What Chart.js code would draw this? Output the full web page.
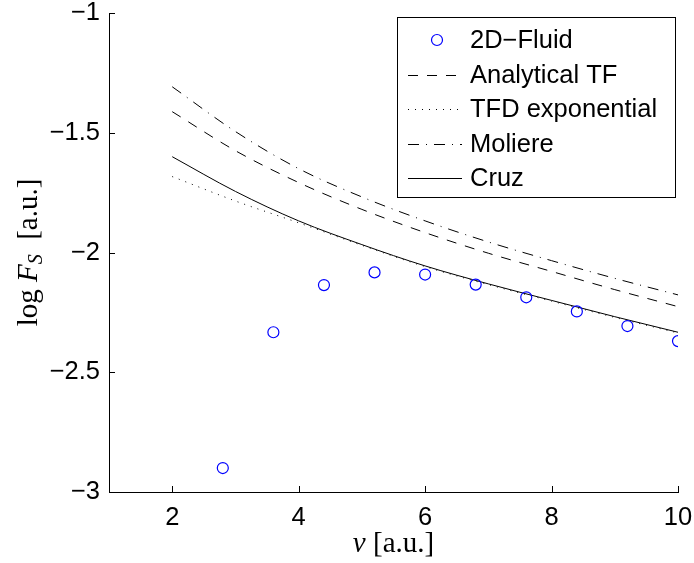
<!DOCTYPE html>
<html><head><meta charset="utf-8">
<script src="https://cdn.jsdelivr.net/npm/chart.js@4.4.0/dist/chart.umd.min.js"></script>
<style>html,body{margin:0;padding:0;background:#fff}canvas{display:block}</style>
</head><body>
<canvas id="c" width="694" height="563"></canvas>
<script>
// ---- data ----
const fluidV = [2.8, 3.6, 4.4, 5.2, 6.0, 6.8, 7.6, 8.4, 9.2, 10.0];
const fluidF = [-2.900, -2.333, -2.136, -2.083, -2.092, -2.134, -2.187, -2.246, -2.307, -2.370];
const curveV = [2, 3, 4, 5, 6, 7, 8, 9, 10];
const analyticalTF = [-1.412, -1.575, -1.708, -1.820, -1.917, -2.003, -2.079, -2.155, -2.226];
const tfdExp      = [-1.683, -1.785, -1.876, -1.970, -2.059, -2.134, -2.203, -2.271, -2.336];
const moliere     = [-1.308, -1.495, -1.650, -1.768, -1.868, -1.956, -2.034, -2.108, -2.177];
const cruz        = [-1.600, -1.745, -1.868, -1.967, -2.056, -2.131, -2.200, -2.268, -2.333];
const xTicks = [2, 4, 6, 8, 10];
const yTicks = [-3, -2.5, -2, -1.5, -1];
const seriesNames = ['2D\u2212Fluid', 'Analytical TF', 'TFD exponential', 'Moliere', 'Cruz'];

const SANS = '"Liberation Sans", Arial, sans-serif';
const SERIF = '"Liberation Serif", "Times New Roman", serif';
const fmt = v => String(v).replace('-', '\u2212');
const pts = (xs, ys) => xs.map((x, i) => ({x: x, y: ys[i]}));

function lineDs(label, ys, dash) {
  return {label, data: pts(curveV, ys), showLine: true, pointRadius: 0, pointHoverRadius: 0,
    borderColor: '#000', borderWidth: 1, borderDash: dash, cubicInterpolationMode: 'monotone', fill: false};
}

const datasets = [
  {label: seriesNames[0], data: pts(fluidV, fluidF), showLine: false, pointRadius: 5.5,
   pointBorderColor: '#0000ff', pointBackgroundColor: 'rgba(0,0,0,0)', pointBorderWidth: 1.2, borderColor: '#0000ff'},
  lineDs(seriesNames[1], analyticalTF, [10, 9]),
  lineDs(seriesNames[2], tfdExp, [1, 6]),
  lineDs(seriesNames[3], moliere, [11, 7, 1, 7]),
  lineDs(seriesNames[4], cruz, []),
];

function drawRich(ctx, pieces, cx, cy) {
  let total = 0;
  pieces.forEach(p => { ctx.font = `${p.style || ''} ${p.size}px ${SERIF}`; p.w = ctx.measureText(p.t).width; total += p.w; });
  let x = cx - total / 2;
  ctx.textBaseline = 'alphabetic';
  ctx.textAlign = 'left';
  pieces.forEach(p => { ctx.font = `${p.style || ''} ${p.size}px ${SERIF}`; ctx.fillText(p.t, x, cy + (p.dy || 0)); x += p.w; });
}

const decor = {
  id: 'decor',
  afterDraw(chart) {
    const ctx = chart.ctx, xs = chart.scales.x, ys = chart.scales.y;
    const L = chart.chartArea.left, B = chart.chartArea.bottom;
    ctx.save();
    ctx.strokeStyle = '#000'; ctx.lineWidth = 1; ctx.setLineDash([]);
    ctx.beginPath();
    xTicks.forEach(v => { const p = Math.round(xs.getPixelForValue(v)) + 0.5; ctx.moveTo(p, B); ctx.lineTo(p, B - 6); });
    yTicks.forEach(v => { const p = Math.round(ys.getPixelForValue(v)) + 0.5; ctx.moveTo(L, p); ctx.lineTo(L + 6, p); });
    ctx.stroke();

    // legend
    const bx = 397.5, by = 17.5, bw = 278, bh = 180;
    ctx.fillStyle = '#fff'; ctx.fillRect(bx, by, bw, bh);
    ctx.strokeRect(bx, by, bw, bh);
    chart.data.datasets.forEach((ds, i) => {
      const y = 40 + i * 34.5;
      if (i === 0) {
        ctx.strokeStyle = '#0000ff'; ctx.lineWidth = 1.2; ctx.setLineDash([]);
        ctx.beginPath(); ctx.arc(437, y, 5.5, 0, Math.PI * 2); ctx.stroke();
      } else {
        ctx.strokeStyle = '#000'; ctx.lineWidth = 1; ctx.setLineDash(ds.borderDash || []);
        ctx.beginPath(); ctx.moveTo(408, Math.round(y) + 0.5); ctx.lineTo(462, Math.round(y) + 0.5); ctx.stroke();
      }
      ctx.setLineDash([]);
      ctx.fillStyle = '#000'; ctx.font = `25.5px ${SANS}`; ctx.textAlign = 'left'; ctx.textBaseline = 'middle';
      ctx.fillText(ds.label, 470, y + 1);
    });

    // axis titles
    ctx.fillStyle = '#000';
    drawRich(ctx, [{t: 'v', style: 'italic', size: 29}, {t: ' [a.u.]', size: 29}], (xs.left + xs.right) / 2, 552);
    ctx.translate(37, (ys.top + ys.bottom) / 2);
    ctx.rotate(-Math.PI / 2);
    drawRich(ctx, [{t: 'log ', size: 29}, {t: 'F', style: 'italic', size: 29},
                   {t: 'S', style: 'italic', size: 20, dy: 5}, {t: '  [a.u.]', size: 29}], 0, 0);
    ctx.restore();
  }
};

new Chart(document.getElementById('c'), {
  type: 'scatter',
  data: {datasets},
  options: {
    responsive: false, animation: false, devicePixelRatio: 1,
    layout: {padding: {top: 13, right: 16, left: 0, bottom: 0}},
    plugins: {legend: {display: false}, tooltip: {enabled: false}},
    scales: {
      x: {
        type: 'linear', min: 1, max: 10,
        afterBuildTicks: s => { s.ticks = xTicks.map(v => ({value: v})); },
        afterFit: s => { s.height = 71; s.paddingLeft = 0; s.paddingRight = 0; },
        grid: {display: false, drawTicks: false},
        border: {display: true, color: '#000', width: 1},
        ticks: {color: '#000', font: {family: SANS, size: 25.5}, padding: 11, maxRotation: 0, autoSkip: false, callback: fmt}
      },
      y: {
        type: 'linear', min: -3, max: -1,
        afterBuildTicks: s => { s.ticks = yTicks.map(v => ({value: v})); },
        afterFit: s => { s.width = 109; s.paddingTop = 0; s.paddingBottom = 0; },
        grid: {display: false, drawTicks: false},
        border: {display: true, color: '#000', width: 1},
        ticks: {color: '#000', font: {family: SANS, size: 25.5}, padding: 9, autoSkip: false, callback: fmt}
      }
    }
  },
  plugins: [decor]
});
</script>
</body></html>
